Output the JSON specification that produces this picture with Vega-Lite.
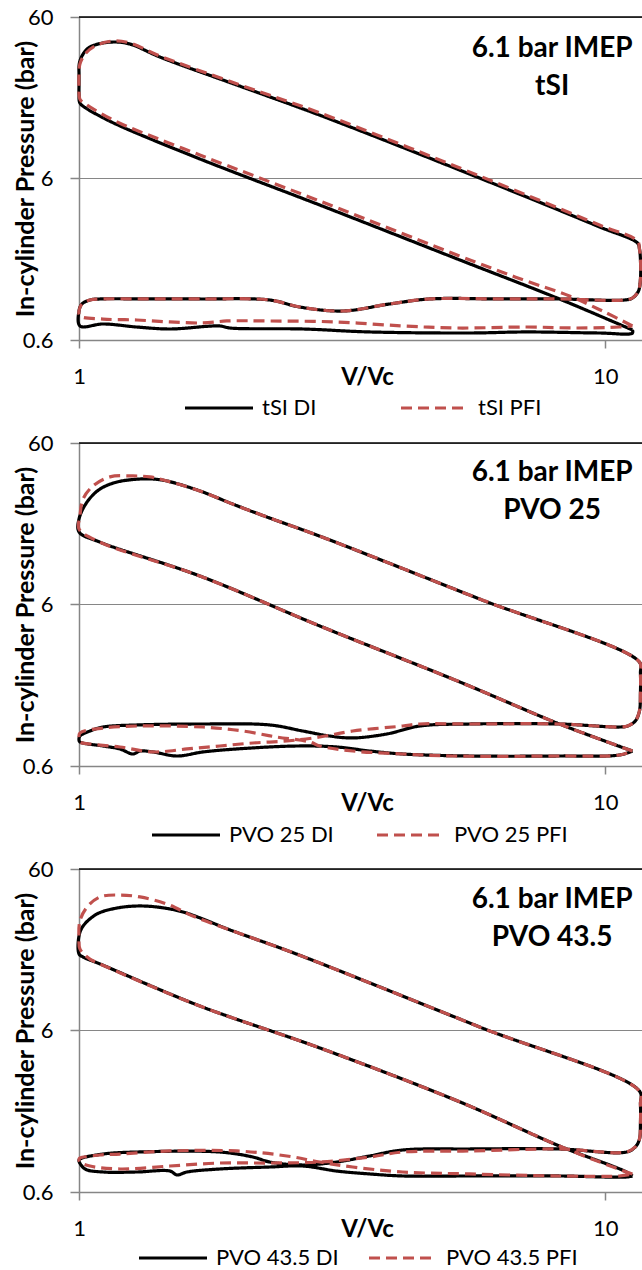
{
"$schema":"https://vega.github.io/schema/vega-lite/v6.json",
"background":"white",
"padding":{"left":13,"top":6,"right":0,"bottom":0},
"autosize":{"type":"pad"},
"config":{
 "font":"Lato",
 "view":{"stroke":null},
 "axis":{"labelColor":"black","titleColor":"black","labelFontSize":22,"labelFont":"Lato","titleFont":"Lato","domainColor":"#868686","domainWidth":1.5,"tickColor":"#868686","tickWidth":1.5},
 "legend":{"labelFont":"Lato","labelColor":"black"}
},
"spacing":103,
"bounds":"flush",
"resolve":{"scale":{"color":"independent","strokeDash":"independent"},"legend":{"color":"independent","strokeDash":"independent"}},
"datasets":{"pv":[
{"panel":1,"series":"tSI DI","i":0,"v":11.27,"p":0.692},
{"panel":1,"series":"tSI DI","i":1,"v":8.188,"p":1.077},
{"panel":1,"series":"tSI DI","i":2,"v":5.29,"p":1.88},
{"panel":1,"series":"tSI DI","i":3,"v":2.868,"p":4.11},
{"panel":1,"series":"tSI DI","i":4,"v":1.697,"p":7.93},
{"panel":1,"series":"tSI DI","i":5,"v":1.196,"p":12.7},
{"panel":1,"series":"tSI DI","i":6,"v":1.096,"p":14.6},
{"panel":1,"series":"tSI DI","i":7,"v":1.036,"p":16.2},
{"panel":1,"series":"tSI DI","i":8,"v":1.004,"p":17.6},
{"panel":1,"series":"tSI DI","i":9,"v":1.0,"p":20.0},
{"panel":1,"series":"tSI DI","i":10,"v":1.0,"p":23.1},
{"panel":1,"series":"tSI DI","i":11,"v":1.0,"p":26.6},
{"panel":1,"series":"tSI DI","i":12,"v":1.0,"p":29.8},
{"panel":1,"series":"tSI DI","i":13,"v":1.004,"p":32.0},
{"panel":1,"series":"tSI DI","i":14,"v":1.013,"p":34.4},
{"panel":1,"series":"tSI DI","i":15,"v":1.036,"p":38.0},
{"panel":1,"series":"tSI DI","i":16,"v":1.072,"p":40.3},
{"panel":1,"series":"tSI DI","i":17,"v":1.16,"p":42.0},
{"panel":1,"series":"tSI DI","i":18,"v":1.25,"p":40.8},
{"panel":1,"series":"tSI DI","i":19,"v":1.425,"p":33.9},
{"panel":1,"series":"tSI DI","i":20,"v":2.021,"p":22.4},
{"panel":1,"series":"tSI DI","i":21,"v":2.868,"p":14.8},
{"panel":1,"series":"tSI DI","i":22,"v":5.772,"p":6.04},
{"panel":1,"series":"tSI DI","i":23,"v":9.754,"p":3.01},
{"panel":1,"series":"tSI DI","i":24,"v":11.52,"p":2.39},
{"panel":1,"series":"tSI DI","i":25,"v":11.62,"p":2.2},
{"panel":1,"series":"tSI DI","i":26,"v":11.67,"p":1.9},
{"panel":1,"series":"tSI DI","i":27,"v":11.67,"p":1.43},
{"panel":1,"series":"tSI DI","i":28,"v":11.57,"p":1.207},
{"panel":1,"series":"tSI DI","i":29,"v":11.27,"p":1.092},
{"panel":1,"series":"tSI DI","i":30,"v":10.88,"p":1.061},
{"panel":1,"series":"tSI DI","i":31,"v":8.188,"p":1.077},
{"panel":1,"series":"tSI DI","i":32,"v":6.3,"p":1.077},
{"panel":1,"series":"tSI DI","i":33,"v":4.639,"p":1.077},
{"panel":1,"series":"tSI DI","i":34,"v":3.895,"p":1.003},
{"panel":1,"series":"tSI DI","i":35,"v":3.171,"p":0.907},
{"panel":1,"series":"tSI DI","i":36,"v":2.628,"p":0.96},
{"panel":1,"series":"tSI DI","i":37,"v":2.305,"p":1.061},
{"panel":1,"series":"tSI DI","i":38,"v":1.697,"p":1.077},
{"panel":1,"series":"tSI DI","i":39,"v":1.364,"p":1.077},
{"panel":1,"series":"tSI DI","i":40,"v":1.096,"p":1.077},
{"panel":1,"series":"tSI DI","i":41,"v":1.049,"p":1.061},
{"panel":1,"series":"tSI DI","i":42,"v":1.013,"p":1.003},
{"panel":1,"series":"tSI DI","i":43,"v":1.0,"p":0.907},
{"panel":1,"series":"tSI DI","i":44,"v":1.004,"p":0.733},
{"panel":1,"series":"tSI DI","i":45,"v":1.111,"p":0.754},
{"panel":1,"series":"tSI DI","i":46,"v":1.288,"p":0.722},
{"panel":1,"series":"tSI DI","i":47,"v":1.489,"p":0.702},
{"panel":1,"series":"tSI DI","i":48,"v":1.852,"p":0.733},
{"panel":1,"series":"tSI DI","i":49,"v":1.935,"p":0.712},
{"panel":1,"series":"tSI DI","i":50,"v":2.663,"p":0.702},
{"panel":1,"series":"tSI DI","i":51,"v":3.568,"p":0.673},
{"panel":1,"series":"tSI DI","i":52,"v":5.526,"p":0.663},
{"panel":1,"series":"tSI DI","i":53,"v":7.09,"p":0.673},
{"panel":1,"series":"tSI DI","i":54,"v":9.754,"p":0.663},
{"panel":1,"series":"tSI DI","i":55,"v":11.27,"p":0.663},
{"panel":1,"series":"tSI DI","i":56,"v":11.27,"p":0.692},
{"panel":1,"series":"tSI PFI","i":0,"v":11.27,"p":0.733},
{"panel":1,"series":"tSI PFI","i":1,"v":9.883,"p":0.907},
{"panel":1,"series":"tSI PFI","i":2,"v":8.554,"p":1.124},
{"panel":1,"series":"tSI PFI","i":3,"v":7.09,"p":1.39},
{"panel":1,"series":"tSI PFI","i":4,"v":5.599,"p":1.85},
{"panel":1,"series":"tSI PFI","i":5,"v":2.868,"p":4.35},
{"panel":1,"series":"tSI PFI","i":6,"v":1.697,"p":8.39},
{"panel":1,"series":"tSI PFI","i":7,"v":1.196,"p":13.2},
{"panel":1,"series":"tSI PFI","i":8,"v":1.096,"p":15.3},
{"panel":1,"series":"tSI PFI","i":9,"v":1.036,"p":17.1},
{"panel":1,"series":"tSI PFI","i":10,"v":1.004,"p":18.6},
{"panel":1,"series":"tSI PFI","i":11,"v":1.0,"p":21.5},
{"panel":1,"series":"tSI PFI","i":12,"v":1.0,"p":26.6},
{"panel":1,"series":"tSI PFI","i":13,"v":1.004,"p":30.7},
{"panel":1,"series":"tSI PFI","i":14,"v":1.027,"p":35.4},
{"panel":1,"series":"tSI PFI","i":15,"v":1.072,"p":39.7},
{"panel":1,"series":"tSI PFI","i":16,"v":1.16,"p":42.6},
{"panel":1,"series":"tSI PFI","i":17,"v":1.25,"p":41.4},
{"panel":1,"series":"tSI PFI","i":18,"v":1.425,"p":34.4},
{"panel":1,"series":"tSI PFI","i":19,"v":2.021,"p":22.8},
{"panel":1,"series":"tSI PFI","i":20,"v":2.868,"p":15.3},
{"panel":1,"series":"tSI PFI","i":21,"v":5.772,"p":6.22},
{"panel":1,"series":"tSI PFI","i":22,"v":9.754,"p":3.09},
{"panel":1,"series":"tSI PFI","i":23,"v":11.52,"p":2.46},
{"panel":1,"series":"tSI PFI","i":24,"v":11.62,"p":2.2},
{"panel":1,"series":"tSI PFI","i":25,"v":11.67,"p":1.9},
{"panel":1,"series":"tSI PFI","i":26,"v":11.67,"p":1.43},
{"panel":1,"series":"tSI PFI","i":27,"v":11.57,"p":1.207},
{"panel":1,"series":"tSI PFI","i":28,"v":11.27,"p":1.092},
{"panel":1,"series":"tSI PFI","i":29,"v":10.88,"p":1.061},
{"panel":1,"series":"tSI PFI","i":30,"v":8.188,"p":1.077},
{"panel":1,"series":"tSI PFI","i":31,"v":6.3,"p":1.077},
{"panel":1,"series":"tSI PFI","i":32,"v":4.639,"p":1.077},
{"panel":1,"series":"tSI PFI","i":33,"v":3.895,"p":1.003},
{"panel":1,"series":"tSI PFI","i":34,"v":3.171,"p":0.907},
{"panel":1,"series":"tSI PFI","i":35,"v":2.628,"p":0.96},
{"panel":1,"series":"tSI PFI","i":36,"v":2.305,"p":1.061},
{"panel":1,"series":"tSI PFI","i":37,"v":1.697,"p":1.077},
{"panel":1,"series":"tSI PFI","i":38,"v":1.364,"p":1.077},
{"panel":1,"series":"tSI PFI","i":39,"v":1.096,"p":1.077},
{"panel":1,"series":"tSI PFI","i":40,"v":1.049,"p":1.061},
{"panel":1,"series":"tSI PFI","i":41,"v":1.013,"p":1.003},
{"panel":1,"series":"tSI PFI","i":42,"v":1.0,"p":0.907},
{"panel":1,"series":"tSI PFI","i":43,"v":1.004,"p":0.845},
{"panel":1,"series":"tSI PFI","i":44,"v":1.111,"p":0.809},
{"panel":1,"series":"tSI PFI","i":45,"v":1.288,"p":0.798},
{"panel":1,"series":"tSI PFI","i":46,"v":1.489,"p":0.776},
{"panel":1,"series":"tSI PFI","i":47,"v":1.72,"p":0.765},
{"panel":1,"series":"tSI PFI","i":48,"v":1.91,"p":0.787},
{"panel":1,"series":"tSI PFI","i":49,"v":2.305,"p":0.787},
{"panel":1,"series":"tSI PFI","i":50,"v":3.089,"p":0.776},
{"panel":1,"series":"tSI PFI","i":51,"v":4.123,"p":0.733},
{"panel":1,"series":"tSI PFI","i":52,"v":5.221,"p":0.712},
{"panel":1,"series":"tSI PFI","i":53,"v":7.09,"p":0.722},
{"panel":1,"series":"tSI PFI","i":54,"v":8.82,"p":0.712},
{"panel":1,"series":"tSI PFI","i":55,"v":10.65,"p":0.722},
{"panel":1,"series":"tSI PFI","i":56,"v":11.27,"p":0.733},
{"panel":2,"series":"PVO 25 DI","i":0,"v":11.27,"p":0.743},
{"panel":2,"series":"PVO 25 DI","i":1,"v":8.188,"p":1.092},
{"panel":2,"series":"PVO 25 DI","i":2,"v":5.29,"p":1.99},
{"panel":2,"series":"PVO 25 DI","i":3,"v":2.868,"p":4.42},
{"panel":2,"series":"PVO 25 DI","i":4,"v":1.697,"p":9.01},
{"panel":2,"series":"PVO 25 DI","i":5,"v":1.096,"p":14.6},
{"panel":2,"series":"PVO 25 DI","i":6,"v":1.0,"p":16.9},
{"panel":2,"series":"PVO 25 DI","i":7,"v":1.0,"p":20.3},
{"panel":2,"series":"PVO 25 DI","i":8,"v":1.036,"p":25.9},
{"panel":2,"series":"PVO 25 DI","i":9,"v":1.096,"p":31.1},
{"panel":2,"series":"PVO 25 DI","i":10,"v":1.181,"p":34.4},
{"panel":2,"series":"PVO 25 DI","i":11,"v":1.306,"p":35.9},
{"panel":2,"series":"PVO 25 DI","i":12,"v":1.382,"p":35.9},
{"panel":2,"series":"PVO 25 DI","i":13,"v":1.47,"p":34.9},
{"panel":2,"series":"PVO 25 DI","i":14,"v":1.697,"p":30.3},
{"panel":2,"series":"PVO 25 DI","i":15,"v":1.961,"p":25.1},
{"panel":2,"series":"PVO 25 DI","i":16,"v":2.275,"p":20.9},
{"panel":2,"series":"PVO 25 DI","i":17,"v":2.868,"p":15.9},
{"panel":2,"series":"PVO 25 DI","i":18,"v":5.772,"p":6.49},
{"panel":2,"series":"PVO 25 DI","i":19,"v":11.62,"p":2.64},
{"panel":2,"series":"PVO 25 DI","i":20,"v":11.67,"p":2.26},
{"panel":2,"series":"PVO 25 DI","i":21,"v":11.67,"p":1.7},
{"panel":2,"series":"PVO 25 DI","i":22,"v":11.62,"p":1.315},
{"panel":2,"series":"PVO 25 DI","i":23,"v":11.41,"p":1.14},
{"panel":2,"series":"PVO 25 DI","i":24,"v":11.03,"p":1.061},
{"panel":2,"series":"PVO 25 DI","i":25,"v":10.65,"p":1.046},
{"panel":2,"series":"PVO 25 DI","i":26,"v":8.188,"p":1.092},
{"panel":2,"series":"PVO 25 DI","i":27,"v":5.526,"p":1.092},
{"panel":2,"series":"PVO 25 DI","i":28,"v":4.441,"p":1.061},
{"panel":2,"series":"PVO 25 DI","i":29,"v":3.845,"p":0.947},
{"panel":2,"series":"PVO 25 DI","i":30,"v":3.313,"p":0.895},
{"panel":2,"series":"PVO 25 DI","i":31,"v":2.996,"p":0.92},
{"panel":2,"series":"PVO 25 DI","i":32,"v":2.663,"p":0.988},
{"panel":2,"series":"PVO 25 DI","i":33,"v":2.305,"p":1.077},
{"panel":2,"series":"PVO 25 DI","i":34,"v":1.72,"p":1.092},
{"panel":2,"series":"PVO 25 DI","i":35,"v":1.288,"p":1.077},
{"panel":2,"series":"PVO 25 DI","i":36,"v":1.111,"p":1.046},
{"panel":2,"series":"PVO 25 DI","i":37,"v":1.049,"p":0.988},
{"panel":2,"series":"PVO 25 DI","i":38,"v":1.004,"p":0.92},
{"panel":2,"series":"PVO 25 DI","i":39,"v":1.0,"p":0.869},
{"panel":2,"series":"PVO 25 DI","i":40,"v":1.004,"p":0.845},
{"panel":2,"series":"PVO 25 DI","i":41,"v":1.111,"p":0.798},
{"panel":2,"series":"PVO 25 DI","i":42,"v":1.196,"p":0.765},
{"panel":2,"series":"PVO 25 DI","i":43,"v":1.266,"p":0.712},
{"panel":2,"series":"PVO 25 DI","i":44,"v":1.306,"p":0.743},
{"panel":2,"series":"PVO 25 DI","i":45,"v":1.382,"p":0.733},
{"panel":2,"series":"PVO 25 DI","i":46,"v":1.535,"p":0.692},
{"panel":2,"series":"PVO 25 DI","i":47,"v":1.72,"p":0.733},
{"panel":2,"series":"PVO 25 DI","i":48,"v":1.995,"p":0.765},
{"panel":2,"series":"PVO 25 DI","i":49,"v":2.594,"p":0.798},
{"panel":2,"series":"PVO 25 DI","i":50,"v":3.089,"p":0.787},
{"panel":2,"series":"PVO 25 DI","i":51,"v":3.568,"p":0.743},
{"panel":2,"series":"PVO 25 DI","i":52,"v":4.123,"p":0.712},
{"panel":2,"series":"PVO 25 DI","i":53,"v":5.526,"p":0.692},
{"panel":2,"series":"PVO 25 DI","i":54,"v":8.188,"p":0.692},
{"panel":2,"series":"PVO 25 DI","i":55,"v":10.65,"p":0.702},
{"panel":2,"series":"PVO 25 DI","i":56,"v":11.27,"p":0.743},
{"panel":2,"series":"PVO 25 PFI","i":0,"v":11.27,"p":0.743},
{"panel":2,"series":"PVO 25 PFI","i":1,"v":8.188,"p":1.092},
{"panel":2,"series":"PVO 25 PFI","i":2,"v":5.29,"p":1.99},
{"panel":2,"series":"PVO 25 PFI","i":3,"v":2.868,"p":4.42},
{"panel":2,"series":"PVO 25 PFI","i":4,"v":1.697,"p":9.01},
{"panel":2,"series":"PVO 25 PFI","i":5,"v":1.096,"p":14.6},
{"panel":2,"series":"PVO 25 PFI","i":6,"v":1.0,"p":17.6},
{"panel":2,"series":"PVO 25 PFI","i":7,"v":1.004,"p":21.2},
{"panel":2,"series":"PVO 25 PFI","i":8,"v":1.018,"p":27.0},
{"panel":2,"series":"PVO 25 PFI","i":9,"v":1.063,"p":32.5},
{"panel":2,"series":"PVO 25 PFI","i":10,"v":1.145,"p":37.0},
{"panel":2,"series":"PVO 25 PFI","i":11,"v":1.266,"p":37.5},
{"panel":2,"series":"PVO 25 PFI","i":12,"v":1.364,"p":37.0},
{"panel":2,"series":"PVO 25 PFI","i":13,"v":1.47,"p":34.9},
{"panel":2,"series":"PVO 25 PFI","i":14,"v":1.697,"p":30.3},
{"panel":2,"series":"PVO 25 PFI","i":15,"v":1.961,"p":25.1},
{"panel":2,"series":"PVO 25 PFI","i":16,"v":2.275,"p":20.9},
{"panel":2,"series":"PVO 25 PFI","i":17,"v":2.868,"p":15.9},
{"panel":2,"series":"PVO 25 PFI","i":18,"v":5.772,"p":6.49},
{"panel":2,"series":"PVO 25 PFI","i":19,"v":11.62,"p":2.64},
{"panel":2,"series":"PVO 25 PFI","i":20,"v":11.67,"p":2.26},
{"panel":2,"series":"PVO 25 PFI","i":21,"v":11.67,"p":1.7},
{"panel":2,"series":"PVO 25 PFI","i":22,"v":11.62,"p":1.315},
{"panel":2,"series":"PVO 25 PFI","i":23,"v":11.41,"p":1.14},
{"panel":2,"series":"PVO 25 PFI","i":24,"v":11.03,"p":1.061},
{"panel":2,"series":"PVO 25 PFI","i":25,"v":10.65,"p":1.046},
{"panel":2,"series":"PVO 25 PFI","i":26,"v":8.188,"p":1.092},
{"panel":2,"series":"PVO 25 PFI","i":27,"v":5.526,"p":1.092},
{"panel":2,"series":"PVO 25 PFI","i":28,"v":4.441,"p":1.092},
{"panel":2,"series":"PVO 25 PFI","i":29,"v":4.123,"p":1.061},
{"panel":2,"series":"PVO 25 PFI","i":30,"v":3.313,"p":0.988},
{"panel":2,"series":"PVO 25 PFI","i":31,"v":2.868,"p":0.907},
{"panel":2,"series":"PVO 25 PFI","i":32,"v":2.483,"p":0.857},
{"panel":2,"series":"PVO 25 PFI","i":33,"v":2.14,"p":0.833},
{"panel":2,"series":"PVO 25 PFI","i":34,"v":1.852,"p":0.798},
{"panel":2,"series":"PVO 25 PFI","i":35,"v":1.604,"p":0.765},
{"panel":2,"series":"PVO 25 PFI","i":36,"v":1.382,"p":0.733},
{"panel":2,"series":"PVO 25 PFI","i":37,"v":1.196,"p":0.787},
{"panel":2,"series":"PVO 25 PFI","i":38,"v":1.049,"p":0.821},
{"panel":2,"series":"PVO 25 PFI","i":39,"v":1.004,"p":0.845},
{"panel":2,"series":"PVO 25 PFI","i":40,"v":1.0,"p":0.895},
{"panel":2,"series":"PVO 25 PFI","i":41,"v":1.004,"p":0.96},
{"panel":2,"series":"PVO 25 PFI","i":42,"v":1.111,"p":1.031},
{"panel":2,"series":"PVO 25 PFI","i":43,"v":1.288,"p":1.061},
{"panel":2,"series":"PVO 25 PFI","i":44,"v":1.72,"p":1.046},
{"panel":2,"series":"PVO 25 PFI","i":45,"v":2.048,"p":0.988},
{"panel":2,"series":"PVO 25 PFI","i":46,"v":2.376,"p":0.907},
{"panel":2,"series":"PVO 25 PFI","i":47,"v":2.746,"p":0.845},
{"panel":2,"series":"PVO 25 PFI","i":48,"v":2.868,"p":0.798},
{"panel":2,"series":"PVO 25 PFI","i":49,"v":3.313,"p":0.743},
{"panel":2,"series":"PVO 25 PFI","i":50,"v":4.123,"p":0.712},
{"panel":2,"series":"PVO 25 PFI","i":51,"v":5.13,"p":0.692},
{"panel":2,"series":"PVO 25 PFI","i":52,"v":8.188,"p":0.692},
{"panel":2,"series":"PVO 25 PFI","i":53,"v":10.65,"p":0.702},
{"panel":2,"series":"PVO 25 PFI","i":54,"v":11.27,"p":0.743},
{"panel":3,"series":"PVO 43.5 DI","i":0,"v":11.27,"p":0.754},
{"panel":3,"series":"PVO 43.5 DI","i":1,"v":10.98,"p":0.798},
{"panel":3,"series":"PVO 43.5 DI","i":2,"v":8.188,"p":1.156},
{"panel":3,"series":"PVO 43.5 DI","i":3,"v":5.29,"p":2.17},
{"panel":3,"series":"PVO 43.5 DI","i":4,"v":2.868,"p":4.68},
{"panel":3,"series":"PVO 43.5 DI","i":5,"v":1.697,"p":8.51},
{"panel":3,"series":"PVO 43.5 DI","i":6,"v":1.096,"p":15.5},
{"panel":3,"series":"PVO 43.5 DI","i":7,"v":1.018,"p":17.1},
{"panel":3,"series":"PVO 43.5 DI","i":8,"v":1.0,"p":17.9},
{"panel":3,"series":"PVO 43.5 DI","i":9,"v":1.0,"p":23.1},
{"panel":3,"series":"PVO 43.5 DI","i":10,"v":1.018,"p":26.6},
{"panel":3,"series":"PVO 43.5 DI","i":11,"v":1.082,"p":31.6},
{"panel":3,"series":"PVO 43.5 DI","i":12,"v":1.181,"p":34.4},
{"panel":3,"series":"PVO 43.5 DI","i":13,"v":1.288,"p":35.4},
{"panel":3,"series":"PVO 43.5 DI","i":14,"v":1.406,"p":34.9},
{"panel":3,"series":"PVO 43.5 DI","i":15,"v":1.576,"p":32.5},
{"panel":3,"series":"PVO 43.5 DI","i":16,"v":1.961,"p":24.8},
{"panel":3,"series":"PVO 43.5 DI","i":17,"v":2.44,"p":19.2},
{"panel":3,"series":"PVO 43.5 DI","i":18,"v":2.868,"p":15.7},
{"panel":3,"series":"PVO 43.5 DI","i":19,"v":5.772,"p":6.31},
{"panel":3,"series":"PVO 43.5 DI","i":20,"v":11.62,"p":2.53},
{"panel":3,"series":"PVO 43.5 DI","i":21,"v":11.67,"p":2.1},
{"panel":3,"series":"PVO 43.5 DI","i":22,"v":11.67,"p":1.58},
{"panel":3,"series":"PVO 43.5 DI","i":23,"v":11.62,"p":1.275},
{"panel":3,"series":"PVO 43.5 DI","i":24,"v":11.41,"p":1.14},
{"panel":3,"series":"PVO 43.5 DI","i":25,"v":10.98,"p":1.061},
{"panel":3,"series":"PVO 43.5 DI","i":26,"v":8.188,"p":1.108},
{"panel":3,"series":"PVO 43.5 DI","i":27,"v":5.526,"p":1.108},
{"panel":3,"series":"PVO 43.5 DI","i":28,"v":4.123,"p":1.092},
{"panel":3,"series":"PVO 43.5 DI","i":29,"v":3.568,"p":1.003},
{"panel":3,"series":"PVO 43.5 DI","i":30,"v":3.089,"p":0.92},
{"panel":3,"series":"PVO 43.5 DI","i":31,"v":2.663,"p":0.882},
{"panel":3,"series":"PVO 43.5 DI","i":32,"v":2.305,"p":0.92},
{"panel":3,"series":"PVO 43.5 DI","i":33,"v":2.14,"p":0.988},
{"panel":3,"series":"PVO 43.5 DI","i":34,"v":1.852,"p":1.061},
{"panel":3,"series":"PVO 43.5 DI","i":35,"v":1.288,"p":1.061},
{"panel":3,"series":"PVO 43.5 DI","i":36,"v":1.111,"p":1.031},
{"panel":3,"series":"PVO 43.5 DI","i":37,"v":1.004,"p":0.96},
{"panel":3,"series":"PVO 43.5 DI","i":38,"v":1.0,"p":0.934},
{"panel":3,"series":"PVO 43.5 DI","i":39,"v":1.027,"p":0.833},
{"panel":3,"series":"PVO 43.5 DI","i":40,"v":1.111,"p":0.798},
{"panel":3,"series":"PVO 43.5 DI","i":41,"v":1.288,"p":0.798},
{"panel":3,"series":"PVO 43.5 DI","i":42,"v":1.489,"p":0.809},
{"panel":3,"series":"PVO 43.5 DI","i":43,"v":1.535,"p":0.765},
{"panel":3,"series":"PVO 43.5 DI","i":44,"v":1.604,"p":0.798},
{"panel":3,"series":"PVO 43.5 DI","i":45,"v":1.852,"p":0.833},
{"panel":3,"series":"PVO 43.5 DI","i":46,"v":2.305,"p":0.857},
{"panel":3,"series":"PVO 43.5 DI","i":47,"v":2.663,"p":0.869},
{"panel":3,"series":"PVO 43.5 DI","i":48,"v":3.089,"p":0.809},
{"panel":3,"series":"PVO 43.5 DI","i":49,"v":3.568,"p":0.776},
{"panel":3,"series":"PVO 43.5 DI","i":50,"v":4.123,"p":0.754},
{"panel":3,"series":"PVO 43.5 DI","i":51,"v":5.526,"p":0.754},
{"panel":3,"series":"PVO 43.5 DI","i":52,"v":8.188,"p":0.754},
{"panel":3,"series":"PVO 43.5 DI","i":53,"v":10.98,"p":0.743},
{"panel":3,"series":"PVO 43.5 DI","i":54,"v":11.27,"p":0.754},
{"panel":3,"series":"PVO 43.5 PFI","i":0,"v":11.27,"p":0.776},
{"panel":3,"series":"PVO 43.5 PFI","i":1,"v":10.98,"p":0.798},
{"panel":3,"series":"PVO 43.5 PFI","i":2,"v":8.188,"p":1.156},
{"panel":3,"series":"PVO 43.5 PFI","i":3,"v":5.29,"p":2.17},
{"panel":3,"series":"PVO 43.5 PFI","i":4,"v":2.868,"p":4.68},
{"panel":3,"series":"PVO 43.5 PFI","i":5,"v":1.697,"p":8.51},
{"panel":3,"series":"PVO 43.5 PFI","i":6,"v":1.096,"p":15.5},
{"panel":3,"series":"PVO 43.5 PFI","i":7,"v":1.049,"p":16.6},
{"panel":3,"series":"PVO 43.5 PFI","i":8,"v":1.004,"p":19.2},
{"panel":3,"series":"PVO 43.5 PFI","i":9,"v":1.0,"p":22.1},
{"panel":3,"series":"PVO 43.5 PFI","i":10,"v":1.004,"p":28.6},
{"panel":3,"series":"PVO 43.5 PFI","i":11,"v":1.036,"p":34.9},
{"panel":3,"series":"PVO 43.5 PFI","i":12,"v":1.096,"p":40.3},
{"panel":3,"series":"PVO 43.5 PFI","i":13,"v":1.196,"p":41.4},
{"panel":3,"series":"PVO 43.5 PFI","i":14,"v":1.306,"p":40.3},
{"panel":3,"series":"PVO 43.5 PFI","i":15,"v":1.47,"p":36.4},
{"panel":3,"series":"PVO 43.5 PFI","i":16,"v":1.646,"p":30.7},
{"panel":3,"series":"PVO 43.5 PFI","i":17,"v":1.961,"p":24.8},
{"panel":3,"series":"PVO 43.5 PFI","i":18,"v":2.44,"p":19.2},
{"panel":3,"series":"PVO 43.5 PFI","i":19,"v":2.868,"p":15.7},
{"panel":3,"series":"PVO 43.5 PFI","i":20,"v":5.772,"p":6.31},
{"panel":3,"series":"PVO 43.5 PFI","i":21,"v":11.62,"p":2.53},
{"panel":3,"series":"PVO 43.5 PFI","i":22,"v":11.67,"p":2.1},
{"panel":3,"series":"PVO 43.5 PFI","i":23,"v":11.67,"p":1.58},
{"panel":3,"series":"PVO 43.5 PFI","i":24,"v":11.62,"p":1.275},
{"panel":3,"series":"PVO 43.5 PFI","i":25,"v":11.41,"p":1.14},
{"panel":3,"series":"PVO 43.5 PFI","i":26,"v":10.98,"p":1.061},
{"panel":3,"series":"PVO 43.5 PFI","i":27,"v":8.188,"p":1.108},
{"panel":3,"series":"PVO 43.5 PFI","i":28,"v":5.526,"p":1.077},
{"panel":3,"series":"PVO 43.5 PFI","i":29,"v":4.123,"p":1.061},
{"panel":3,"series":"PVO 43.5 PFI","i":30,"v":3.568,"p":0.988},
{"panel":3,"series":"PVO 43.5 PFI","i":31,"v":2.868,"p":0.92},
{"panel":3,"series":"PVO 43.5 PFI","i":32,"v":2.305,"p":0.907},
{"panel":3,"series":"PVO 43.5 PFI","i":33,"v":1.852,"p":0.907},
{"panel":3,"series":"PVO 43.5 PFI","i":34,"v":1.489,"p":0.869},
{"panel":3,"series":"PVO 43.5 PFI","i":35,"v":1.196,"p":0.833},
{"panel":3,"series":"PVO 43.5 PFI","i":36,"v":1.049,"p":0.869},
{"panel":3,"series":"PVO 43.5 PFI","i":37,"v":1.004,"p":0.92},
{"panel":3,"series":"PVO 43.5 PFI","i":38,"v":1.0,"p":0.96},
{"panel":3,"series":"PVO 43.5 PFI","i":39,"v":1.004,"p":0.974},
{"panel":3,"series":"PVO 43.5 PFI","i":40,"v":1.096,"p":1.017},
{"panel":3,"series":"PVO 43.5 PFI","i":41,"v":1.196,"p":1.031},
{"panel":3,"series":"PVO 43.5 PFI","i":42,"v":1.489,"p":1.077},
{"panel":3,"series":"PVO 43.5 PFI","i":43,"v":1.995,"p":1.077},
{"panel":3,"series":"PVO 43.5 PFI","i":44,"v":2.483,"p":1.003},
{"panel":3,"series":"PVO 43.5 PFI","i":45,"v":2.868,"p":0.92},
{"panel":3,"series":"PVO 43.5 PFI","i":46,"v":3.313,"p":0.857},
{"panel":3,"series":"PVO 43.5 PFI","i":47,"v":4.123,"p":0.798},
{"panel":3,"series":"PVO 43.5 PFI","i":48,"v":5.526,"p":0.776},
{"panel":3,"series":"PVO 43.5 PFI","i":49,"v":8.188,"p":0.754},
{"panel":3,"series":"PVO 43.5 PFI","i":50,"v":10.65,"p":0.754},
{"panel":3,"series":"PVO 43.5 PFI","i":51,"v":11.27,"p":0.776}
]},
"vconcat":[
{"width":563,"height":323,
 "layer":[
  {"data":{"name":"pv"},"transform":[{"filter":"datum.panel==1"}],
   "mark":{"type":"line","strokeWidth":3.2,"strokeJoin":"round","clip":false,"interpolate":"catmull-rom"},
   "encoding":{
    "x":{"field":"v","type":"quantitative","scale":{"type":"log","domain":[1,11.75],"nice":false},
      "axis":{"values":[1,10],"format":"~g","grid":false,"tickSize":8,"labelFlush":false,"labelPadding":18,"title":"V/Vc","titleFontSize":24,"titleFontWeight":"bold","titleX":288,"titleY":37,"titleBaseline":"middle"}},
    "y":{"field":"p","type":"quantitative","scale":{"type":"log","domain":[0.6,60],"nice":false},
      "axis":{"values":[0.6,6,60],"format":"~g","grid":true,"gridColor":"#868686","gridWidth":1,"tickSize":9,"labelPadding":17,"title":"In-cylinder Pressure (bar)","titleFontSize":25,"titleFontWeight":"bold","titleX":-54,"titleY":161.5,"titleAngle":-90,"titleAlign":"center","titleBaseline":"middle"}},
    "color":{"field":"series","type":"nominal","scale":{"domain":["tSI DI","tSI PFI"],"range":["#000000","#C0504D"]},
      "legend":{"orient":"none","legendX":104,"legendY":355,"direction":"horizontal","title":null,"symbolType":"stroke","symbolSize":4624,"symbolStrokeWidth":3.2,"labelFontSize":22,"labelOffset":7,"columnPadding":77,"padding":0}},
    "strokeDash":{"field":"series","type":"nominal","scale":{"domain":["tSI DI","tSI PFI"],"range":[[1,0],[11,6]]}},
    "order":{"field":"i","type":"quantitative"}
   }},
  {"data":{"values":[{}]},"mark":{"type":"rule","color":"black","strokeWidth":1.5},"encoding":{"y":{"datum":60}}},
  {"data":{"values":[{}]},"mark":{"type":"text","text":["6.1 bar IMEP","tSI"],"fontSize":28,"fontWeight":"bold","lineHeight":38,"align":"center","baseline":"middle","color":"black"},"encoding":{"x":{"datum":7.93},"y":{"datum":38.0}}}
 ]},
{"width":563,"height":323,
 "layer":[
  {"data":{"name":"pv"},"transform":[{"filter":"datum.panel==2"}],
   "mark":{"type":"line","strokeWidth":3.2,"strokeJoin":"round","clip":false,"interpolate":"catmull-rom"},
   "encoding":{
    "x":{"field":"v","type":"quantitative","scale":{"type":"log","domain":[1,11.75],"nice":false},
      "axis":{"values":[1,10],"format":"~g","grid":false,"tickSize":8,"labelFlush":false,"labelPadding":18,"title":"V/Vc","titleFontSize":24,"titleFontWeight":"bold","titleX":288,"titleY":37,"titleBaseline":"middle"}},
    "y":{"field":"p","type":"quantitative","scale":{"type":"log","domain":[0.6,60],"nice":false},
      "axis":{"values":[0.6,6,60],"format":"~g","grid":true,"gridColor":"#868686","gridWidth":1,"tickSize":9,"labelPadding":17,"title":"In-cylinder Pressure (bar)","titleFontSize":25,"titleFontWeight":"bold","titleX":-54,"titleY":161.5,"titleAngle":-90,"titleAlign":"center","titleBaseline":"middle"}},
    "color":{"field":"series","type":"nominal","scale":{"domain":["PVO 25 DI","PVO 25 PFI"],"range":["#000000","#C0504D"]},
      "legend":{"orient":"none","legendX":71,"legendY":356,"direction":"horizontal","title":null,"symbolType":"stroke","symbolSize":4624,"symbolStrokeWidth":3.2,"labelFontSize":22,"labelOffset":7,"columnPadding":36,"padding":0}},
    "strokeDash":{"field":"series","type":"nominal","scale":{"domain":["PVO 25 DI","PVO 25 PFI"],"range":[[1,0],[11,6]]}},
    "order":{"field":"i","type":"quantitative"}
   }},
  {"data":{"values":[{}]},"mark":{"type":"rule","color":"black","strokeWidth":1.5},"encoding":{"y":{"datum":60}}},
  {"data":{"values":[{}]},"mark":{"type":"text","text":["6.1 bar IMEP","PVO 25"],"fontSize":28,"fontWeight":"bold","lineHeight":38,"align":"center","baseline":"middle","color":"black"},"encoding":{"x":{"datum":7.93},"y":{"datum":39.0}}}
 ]},
{"width":563,"height":323,
 "layer":[
  {"data":{"name":"pv"},"transform":[{"filter":"datum.panel==3"}],
   "mark":{"type":"line","strokeWidth":3.2,"strokeJoin":"round","clip":false,"interpolate":"catmull-rom"},
   "encoding":{
    "x":{"field":"v","type":"quantitative","scale":{"type":"log","domain":[1,11.75],"nice":false},
      "axis":{"values":[1,10],"format":"~g","grid":false,"tickSize":8,"labelFlush":false,"labelPadding":18,"title":"V/Vc","titleFontSize":24,"titleFontWeight":"bold","titleX":288,"titleY":37,"titleBaseline":"middle"}},
    "y":{"field":"p","type":"quantitative","scale":{"type":"log","domain":[0.6,60],"nice":false},
      "axis":{"values":[0.6,6,60],"format":"~g","grid":true,"gridColor":"#868686","gridWidth":1,"tickSize":9,"labelPadding":17,"title":"In-cylinder Pressure (bar)","titleFontSize":25,"titleFontWeight":"bold","titleX":-54,"titleY":161.5,"titleAngle":-90,"titleAlign":"center","titleBaseline":"middle"}},
    "color":{"field":"series","type":"nominal","scale":{"domain":["PVO 43.5 DI","PVO 43.5 PFI"],"range":["#000000","#C0504D"]},
      "legend":{"orient":"none","legendX":58,"legendY":353,"direction":"horizontal","title":null,"symbolType":"stroke","symbolSize":4624,"symbolStrokeWidth":3.2,"labelFontSize":22,"labelOffset":7,"columnPadding":23,"padding":0}},
    "strokeDash":{"field":"series","type":"nominal","scale":{"domain":["PVO 43.5 DI","PVO 43.5 PFI"],"range":[[1,0],[11,6]]}},
    "order":{"field":"i","type":"quantitative"}
   }},
  {"data":{"values":[{}]},"mark":{"type":"rule","color":"black","strokeWidth":1.5},"encoding":{"y":{"datum":60}}},
  {"data":{"values":[{}]},"mark":{"type":"text","text":["6.1 bar IMEP","PVO 43.5"],"fontSize":28,"fontWeight":"bold","lineHeight":38,"align":"center","baseline":"middle","color":"black"},"encoding":{"x":{"datum":7.93},"y":{"datum":38.5}}}
 ]}
]
}
